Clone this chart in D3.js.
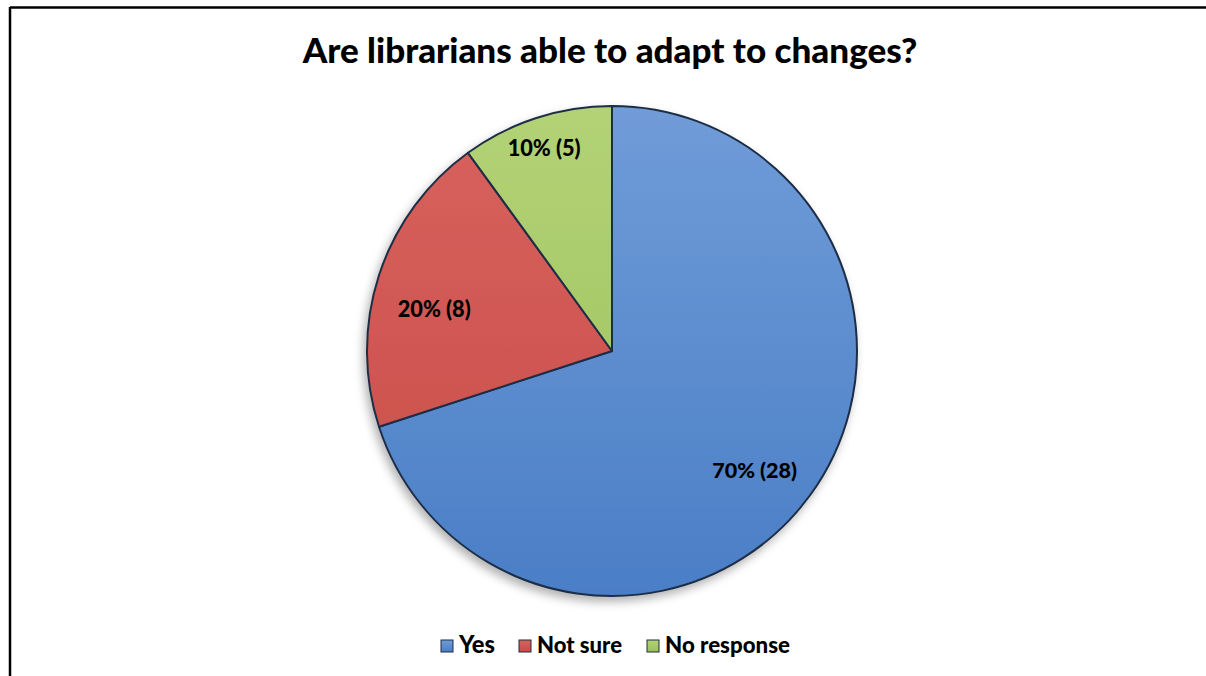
<!DOCTYPE html>
<html><head><meta charset="utf-8">
<script src="https://cdn.jsdelivr.net/npm/d3@7"></script>
<style>body{margin:0;background:#fff;} svg{display:block;}</style>
</head><body>
<svg id="c" width="1206" height="676"></svg>
<script>
const title = "Are librarians able to adapt to changes?";
const categories = ["Yes", "Not sure", "No response"];
const counts = [28, 8, 5];
const percents = [70, 20, 10];
const colors = ["#4a7ec6", "#c94c48", "#9cc05a"];
const lightColors = ["#709cd8", "#d8625e", "#b3d276"];

const svg = d3.select("#c");
const font = "Lato, 'Open Sans', sans-serif";

// frame (top and left visible)
svg.append("line").attr("x1",10).attr("y1",7.5).attr("x2",1206).attr("y2",7.5).attr("stroke","#000").attr("stroke-width",2.5);
svg.append("line").attr("x1",10).attr("y1",7).attr("x2",10).attr("y2",676).attr("stroke","#000").attr("stroke-width",2.5);

const defs = svg.append("defs");
colors.forEach((c,i)=>{
  const g = defs.append("linearGradient").attr("id","g"+i).attr("gradientUnits","userSpaceOnUse")
    .attr("x1",0).attr("y1",-245).attr("x2",0).attr("y2",245);
  g.append("stop").attr("offset","0%").attr("stop-color",lightColors[i]);
  g.append("stop").attr("offset","100%").attr("stop-color",c);
});
const f = defs.append("filter").attr("id","sh").attr("x","-20%").attr("y","-20%").attr("width","140%").attr("height","140%");
f.append("feDropShadow").attr("dx",-3).attr("dy",5).attr("stdDeviation",5).attr("flood-color","#000").attr("flood-opacity",0.3);

const fitText = (sel, target, startSize) => {
  sel.attr("font-size", startSize);
  const w = sel.node().getComputedTextLength();
  sel.attr("font-size", startSize * target / w);
};

// title
const t = svg.append("text").attr("x",610).attr("y",63).attr("text-anchor","middle")
  .attr("font-family",font).attr("font-weight",900).attr("fill","#000").text(title);
fitText(t, 615, 30);

const cx = 612, cy = 351, r = 245;
const pie = d3.pie().sort(null).value(d=>d)(percents);
const arc = d3.arc().innerRadius(0).outerRadius(r);
const g = svg.append("g").attr("transform",`translate(${cx},${cy})`);
const gp = g.append("g").attr("filter","url(#sh)");
gp.selectAll("path").data(pie).join("path")
  .attr("d",arc).attr("fill",(d,i)=>`url(#g${i})`)
  .attr("stroke","#1f2d45").attr("stroke-width",2).attr("stroke-linejoin","round");

// labels
const labelR = [0.76, 0.75, 0.87];
const labelShift = [[-8,10],[-3,15],[-2,0]];
const labelW = [85, 73, 73];
pie.forEach((d,i)=>{
  const a = (d.startAngle + d.endAngle)/2;
  const rr = r*labelR[i];
  const x = Math.sin(a)*rr + labelShift[i][0], y = -Math.cos(a)*rr + labelShift[i][1];
  const tx = g.append("text").attr("x",x).attr("y",y).attr("text-anchor","middle").attr("dy","0.36em")
    .attr("font-family",font).attr("font-weight",900).attr("fill","#000")
    .text(`${percents[i]}% (${counts[i]})`);
  fitText(tx, labelW[i], 20);
});

// legend
const legX = [441, 519, 647];
const legW = [36, 85, 125];
const lg = svg.append("g");
categories.forEach((c,i)=>{
  const gg = defs.append("linearGradient").attr("id","lg"+i).attr("x1",0).attr("y1",0).attr("x2",0).attr("y2",1);
  gg.append("stop").attr("offset","0%").attr("stop-color",lightColors[i]);
  gg.append("stop").attr("offset","100%").attr("stop-color",colors[i]);
  lg.append("rect").attr("x",legX[i]).attr("y",640).attr("width",12).attr("height",12)
    .attr("fill",`url(#lg${i})`).attr("stroke","#1f2d45").attr("stroke-width",1);
  const lt = lg.append("text").attr("x",legX[i]+18).attr("y",653).attr("font-family",font).attr("font-weight",900)
    .attr("fill","#000").text(c);
  fitText(lt, legW[i], 19);
});
</script>
</body></html>
